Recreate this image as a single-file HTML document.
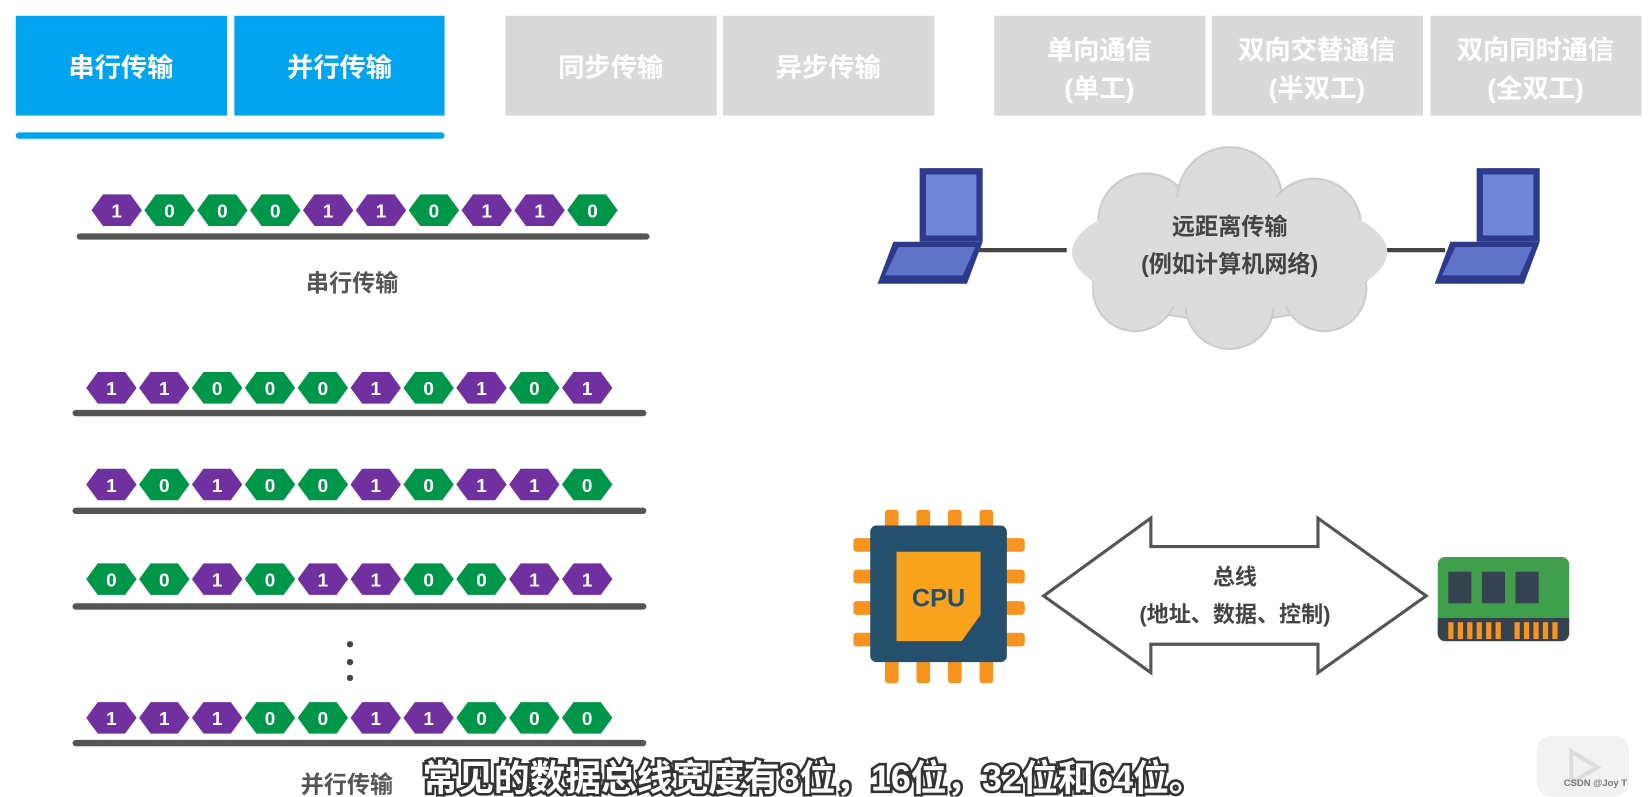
<!DOCTYPE html>
<html><head><meta charset="utf-8"><style>
html,body{margin:0;padding:0;background:#fff;overflow:hidden}
#w{width:1568px;height:758px;transform:scale(1.051);transform-origin:0 0;position:relative}
svg text{font-family:"Liberation Sans","Noto Sans CJK SC",sans-serif;font-weight:bold}
</style></head><body><div id="w">
<svg width="1568" height="758" viewBox="0 0 1568 758" xmlns="http://www.w3.org/2000/svg">
<rect x="15" y="15" width="201" height="95" fill="#02a3ef"/>
<rect x="223" y="15" width="200" height="95" fill="#02a3ef"/>
<rect x="15" y="126" width="408" height="6" rx="3" fill="#02a3ef"/>
<g fill="#d9d9d9"><rect x="481" y="15" width="201" height="95"/><rect x="688" y="15" width="201" height="95"/>
<rect x="946" y="15" width="201" height="95"/><rect x="1153" y="15" width="201" height="95"/><rect x="1361" y="15" width="201" height="95"/></g>
<g font-size="25" fill="#fff" text-anchor="middle">
<text x="115" y="73">串行传输</text><text x="323" y="73">并行传输</text>
<text x="581" y="73">同步传输</text><text x="788" y="73">异步传输</text>
<text x="1046" y="56">单向通信</text><text x="1046" y="93">(单工)</text>
<text x="1253" y="56">双向交替通信</text><text x="1253" y="93">(半双工)</text>
<text x="1461" y="56">双向同时通信</text><text x="1461" y="93">(全双工)</text>
</g>
<g id="rows"></g>
<rect x="73" y="222" width="545" height="6" rx="3" fill="#555"/>
<rect x="69" y="390" width="546" height="6" rx="3" fill="#555"/>
<rect x="69" y="483" width="546" height="6" rx="3" fill="#555"/>
<rect x="69" y="574" width="546" height="6" rx="3" fill="#555"/>
<rect x="69" y="704" width="546" height="6" rx="3" fill="#555"/>
<g fill="#444"><circle cx="333" cy="613" r="3"/><circle cx="333" cy="630" r="3"/><circle cx="333" cy="645" r="3"/></g>
<text x="335" y="277" font-size="22" fill="#555" text-anchor="middle">串行传输</text>
<text x="330" y="754" font-size="22" fill="#555" text-anchor="middle">并行传输</text>
<!-- network -->
<line x1="925" y1="238" x2="1015" y2="238" stroke="#444" stroke-width="4"/>
<line x1="1300" y1="238" x2="1375" y2="238" stroke="#444" stroke-width="4"/>
<g fill="#dcdcdc" stroke="#ccc" stroke-width="2">
<ellipse cx="1170" cy="245" rx="140" ry="60"/>
<circle cx="1090" cy="210" r="45"/><circle cx="1170" cy="190" r="50"/><circle cx="1250" cy="215" r="45"/>
<circle cx="1080" cy="275" r="40"/><circle cx="1170" cy="290" r="42"/><circle cx="1260" cy="275" r="40"/>
</g>
<ellipse cx="1170" cy="240" rx="150" ry="55" fill="#dcdcdc"/>
<text x="1170" y="223" font-size="22" fill="#444" text-anchor="middle">远距离传输</text>
<text x="1170" y="259" font-size="22" fill="#444" text-anchor="middle">(例如计算机网络)</text>
<g>
<polygon points="875,160 935,160 935,230 875,230" fill="#2d3a8c"/>
<rect x="881" y="166" width="48" height="58" fill="#6f86d6"/>
<polygon points="875,230 935,230 920,270 835,270 850,230" fill="#2d3a8c"/>
<polygon points="855,235 928,235 916,262 842,262" fill="#5f73c8"/>
</g>
<g transform="translate(530,0)">
<polygon points="875,160 935,160 935,230 875,230" fill="#2d3a8c"/>
<rect x="881" y="166" width="48" height="58" fill="#6f86d6"/>
<polygon points="875,230 935,230 920,270 835,270 850,230" fill="#2d3a8c"/>
<polygon points="855,235 928,235 916,262 842,262" fill="#5f73c8"/>
</g>
<!-- CPU -->
<g fill="#f7931e">
<rect x="842" y="485" width="13" height="25" rx="3"/><rect x="872" y="485" width="13" height="25" rx="3"/><rect x="902" y="485" width="13" height="25" rx="3"/><rect x="932" y="485" width="13" height="25" rx="3"/>
<rect x="842" y="625" width="13" height="25" rx="3"/><rect x="872" y="625" width="13" height="25" rx="3"/><rect x="902" y="625" width="13" height="25" rx="3"/><rect x="932" y="625" width="13" height="25" rx="3"/>
<rect x="812" y="512" width="25" height="13" rx="3"/><rect x="812" y="542" width="25" height="13" rx="3"/><rect x="812" y="572" width="25" height="13" rx="3"/><rect x="812" y="602" width="25" height="13" rx="3"/>
<rect x="950" y="512" width="25" height="13" rx="3"/><rect x="950" y="542" width="25" height="13" rx="3"/><rect x="950" y="572" width="25" height="13" rx="3"/><rect x="950" y="602" width="25" height="13" rx="3"/>
</g>
<rect x="828" y="500" width="130" height="130" rx="6" fill="#24506e"/>
<polygon points="853,525 933,525 933,585 915,610 853,610" fill="#f9a21d"/>
<text x="893" y="577" font-size="24" fill="#24506e" text-anchor="middle">CPU</text>
<!-- arrow -->
<polygon points="993,567 1095,493 1095,520 1254,520 1254,493 1357,567 1254,640 1254,613 1095,613 1095,640" fill="#fff" stroke="#555" stroke-width="3"/>
<text x="1175" y="556" font-size="21" fill="#444" text-anchor="middle">总线</text>
<text x="1175" y="592" font-size="21" fill="#444" text-anchor="middle">(地址、数据、控制)</text>
<!-- RAM -->
<rect x="1368" y="530" width="125" height="80" rx="7" fill="#3f9f4a"/>
<path d="M1368,588 h125 v15 a7,7 0 0 1 -7,7 h-111 a7,7 0 0 1 -7,-7z" fill="#34434f"/>
<g fill="#34434f"><rect x="1378" y="544" width="22" height="30"/><rect x="1410" y="544" width="22" height="30"/><rect x="1442" y="544" width="22" height="30"/></g>
<g fill="#f7931e" id="pins"></g>
<!-- subtitle -->
<text x="774" y="752" font-size="34" fill="#fff" stroke="#333" stroke-width="5" paint-order="stroke" text-anchor="middle" font-weight="normal">常见的数据总线宽度有8位，16位，32位和64位。</text>
<rect x="1462" y="700" width="88" height="58" rx="14" fill="#f2f2f2"/>
<polygon points="1495,715 1520,730 1495,745" fill="none" stroke="#ddd" stroke-width="4"/>
<text x="1518" y="748" font-size="9" fill="#777" text-anchor="middle" font-weight="normal">CSDN @Joy T</text>
</svg>
<script>
var ns="http://www.w3.org/2000/svg",g=document.getElementById("rows");
function row(x0,cy,bits){for(var i=0;i<10;i++){var x=x0+i*50.3,b=bits[i];
var p=document.createElementNS(ns,"polygon");
p.setAttribute("points",[x,cy,x+11,cy-15,x+37,cy-15,x+48,cy,x+37,cy+15,x+11,cy+15].join(","));
p.setAttribute("fill",b=="1"?"#7030a0":"#00964a");g.appendChild(p);
var t=document.createElementNS(ns,"text");t.setAttribute("x",x+24);t.setAttribute("y",cy+7);
t.setAttribute("font-size","18");t.setAttribute("fill","#fff");t.setAttribute("text-anchor","middle");t.setAttribute("font-weight","normal");
t.textContent=b;g.appendChild(t);}}
row(87,200,"1000110110");row(82,369,"1100010101");row(82,461,"1010010110");row(82,551,"0010110011");row(82,683,"1110011000");
var pg=document.getElementById("pins");
for(var i=0;i<12;i++){if(i==6)continue;var r=document.createElementNS(ns,"rect");r.setAttribute("x",1378+i*9);r.setAttribute("y",592);r.setAttribute("width",5);r.setAttribute("height",16);pg.appendChild(r);}
</script>
</div></body></html>
